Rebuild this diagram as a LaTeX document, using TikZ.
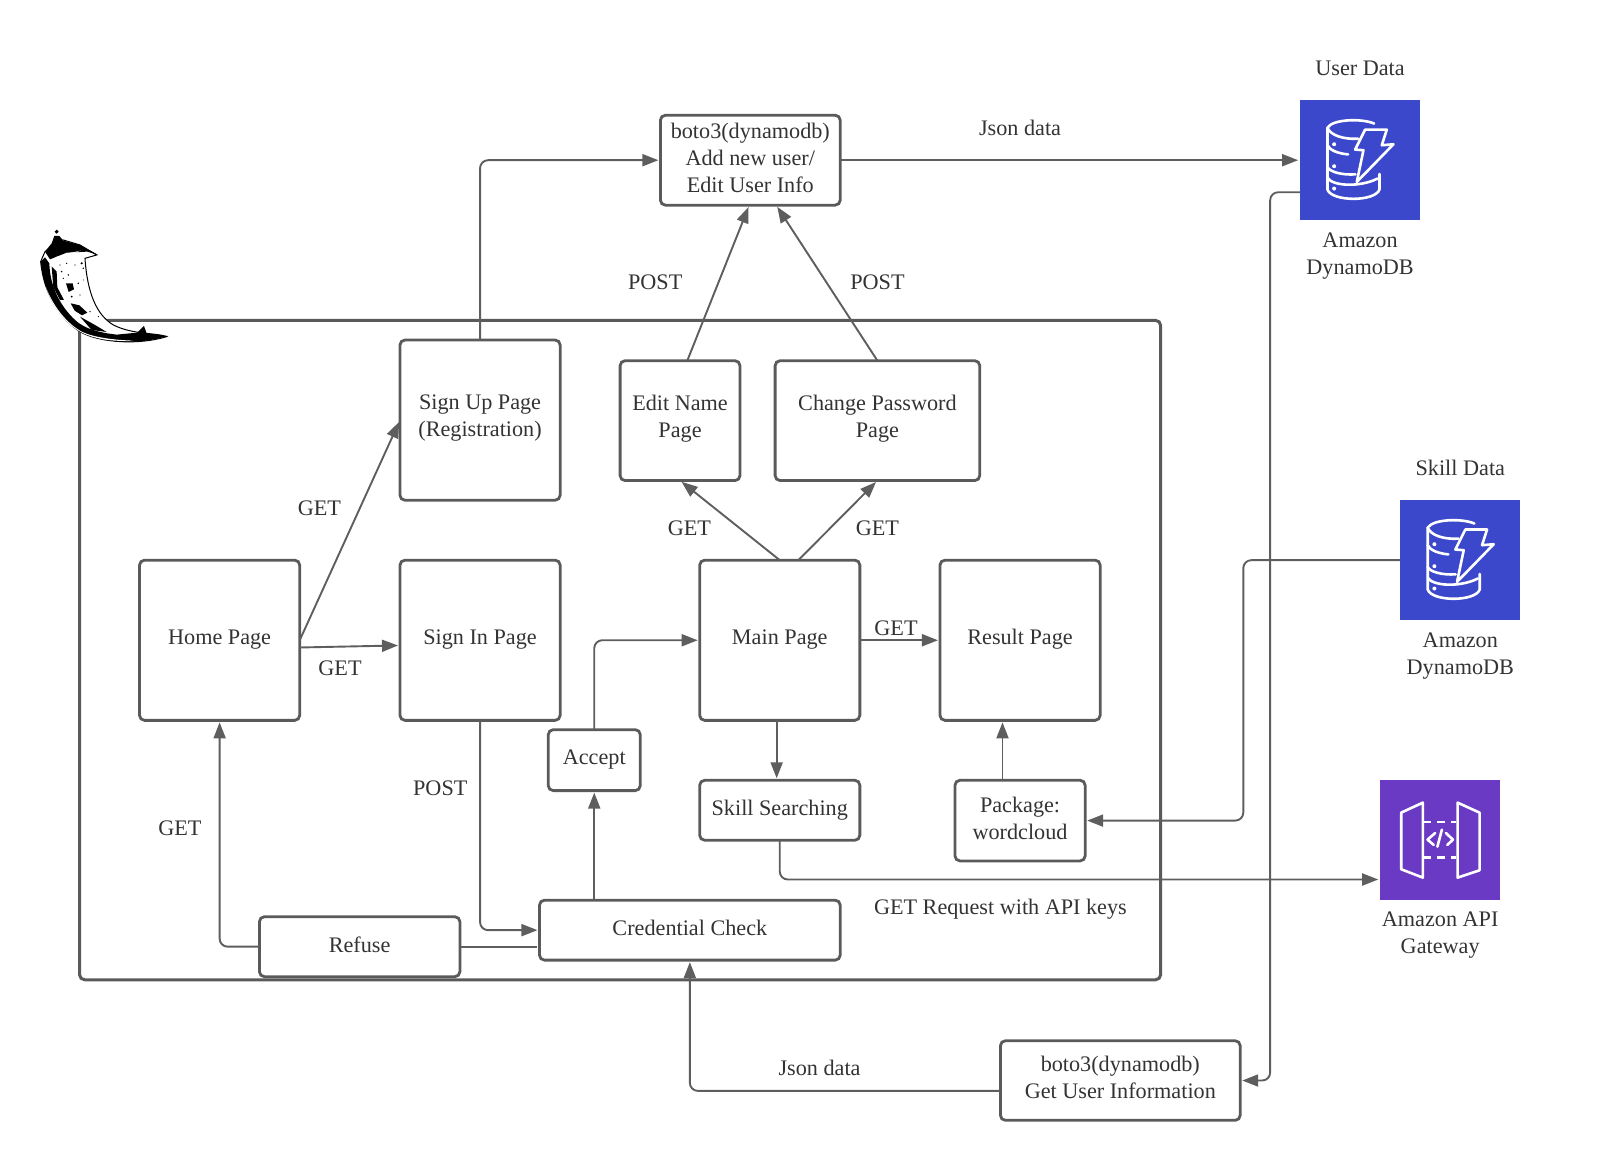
\documentclass[tikz,border=0pt]{standalone}
\usepackage{fontspec}
\setmainfont{Liberation Serif}
\usepackage{xcolor}
\usetikzlibrary{positioning,arrows.meta,calc}
\definecolor{linegray}{HTML}{5E5E5E}
\definecolor{boxgray}{HTML}{5A5A5A}
\definecolor{txtgray}{HTML}{333333}
\definecolor{dbblue}{HTML}{3B48CC}
\definecolor{apipurple}{HTML}{6A3AC4}
\newcommand{\ux}{0.51675pt}
\tikzset{
	boxwh/.style 2 args={minimum width=#1*\ux,minimum height=#2*\ux},
	pagebox/.style={draw=boxgray,line width=1.4pt,rounded corners=2.5pt,align=center,inner sep=0pt,outer sep=0pt,text=txtgray,text depth=3.4pt,font=\fontsize{11.1}{13.5}\selectfont},
	bigbox/.style={pagebox,boxwh={155}{155}},
	lbl/.style={align=center,inner sep=0pt,text=txtgray,font=\fontsize{11.1}{13.5}\selectfont},
	flow/.style={->,draw=linegray,line width=0.95pt,rounded corners=4pt},
	plainflow/.style={draw=linegray,line width=0.95pt},
	awssq/.style={boxwh={116}{116},inner sep=0pt,outer sep=0pt},
	icon/.style={draw=white,line width=1.3pt,line join=round,line cap=round},
	pics/dbicon/.style={code={
		\begin{scope}[scale=0.3225]
		\draw[icon] (222,70) .. controls (190,55) and (100,55) .. (82,82) .. controls (90,105) and (130,118) .. (180,115);
		\draw[icon] (82,82) -- (82,135) .. controls (88,150) and (115,160) .. (150,163);
		\draw[icon] (82,135) -- (82,200) .. controls (88,215) and (125,225) .. (172,222);
		\draw[icon] (82,200) -- (82,268) .. controls (95,305) and (225,305) .. (238,268) -- (238,215);
		\draw[icon] (82,232) .. controls (95,258) and (180,262) .. (238,232);
		\fill[white] (102,132) circle (6) (102,198) circle (6) (102,265) circle (6);
		\draw[icon] (195,88) -- (260,88) -- (245,135) -- (280,132) -- (170,245) -- (190,150) -- (165,148) -- cycle;
		\end{scope}
	}},
	pics/apiicon/.style={code={
		\begin{scope}[scale=0.3225]
		\draw[icon] (63,97) -- (128,67) -- (128,292) -- (63,267) -- cycle;
		\draw[icon] (232,67) -- (298,97) -- (298,270) -- (232,292) -- cycle;
		\draw[icon,line cap=butt,dash pattern=on 4pt off 3pt] (128,125) -- (232,125);
		\draw[icon,line cap=butt,dash pattern=on 4pt off 3pt] (128,232) -- (232,232);
		\draw[icon] (165,158) -- (142,178) -- (165,198);
		\draw[icon] (197,158) -- (218,178) -- (197,198);
		\draw[icon] (185,148) -- (170,205);
		\end{scope}
	}},
}
\begin{document}
\begin{tikzpicture}[x=0.51675pt,y=-0.51675pt,>={Triangle[length=8pt,width=6pt]},shorten >=1pt]
	\useasboundingbox (0,0) rectangle (1567.5,1122.4);
	% big frame
	\node[pagebox,boxwh={1046}{638},line width=1.5pt] (frame) at (600,629) {};

	% flask horn
	\begin{scope}[shift={(0,193.5)},scale=0.3225]
		\filldraw[fill=white,draw=black,line width=0.5pt] (122,185) .. controls (130,270) and (170,350) .. (240,395) .. controls (300,430) and (420,435) .. (500,410) .. controls (470,398) and (400,405) .. (340,375) .. controls (290,345) and (262,280) .. (255,175) -- (290,165) -- (240,135) -- (190,120) -- (165,130) -- (135,155) -- cycle;
		% dark band
		\fill[black] (122,185) .. controls (130,270) and (170,350) .. (240,395) .. controls (300,430) and (420,435) .. (503,408) -- (440,400) -- (432,378) -- (412,398) -- (350,404) .. controls (300,398) and (255,388) .. (225,360) .. controls (185,322) and (150,265) .. (148,190) -- (135,172) -- cycle;
		\fill[white] (138,262) .. controls (160,335) and (210,385) .. (262,405) .. controls (300,420) and (350,425) .. (400,422) .. controls (340,420) and (280,412) .. (245,395) .. controls (200,370) and (160,320) .. (138,262) -- cycle;
		% cap
		\fill[black] (135,155) -- (155,130) -- (163,108) -- (178,108) -- (190,122) -- (240,135) -- (295,165) -- (262,155) -- (200,158) -- (150,178) -- cycle;
		\fill[white] (165,172) -- (215,158) -- (242,152) -- (185,172) -- cycle;
		% mottling
		\fill[black] (155,200) -- (170,215) -- (172,262) -- (192,300) -- (180,300) -- (160,262) -- cycle;
		\fill[black] (198,250) -- (218,250) -- (222,268) -- (206,276) -- cycle;
		\fill[black] (212,310) -- (238,316) -- (262,338) -- (246,346) -- (224,332) -- cycle;
		\fill[black] (240,350) -- (285,375) -- (320,396) -- (275,390) -- cycle;
		\foreach \mx/\my/\mr in {245/190/3.5,250/205/2.5,205/225/2.5,235/250/2.5,270/335/2,225/195/2,200/190/2,185/215/2.5,215/290/3,190/235/2,240/285/2,295/350/2,180/195/2,250/240/1.5}
			\fill[black] (\mx,\my) circle (\mr);
		\filldraw[fill=white,draw=black,line width=0.7pt] (170,95) circle (3.2);
	\end{scope}

	% pages
	\node[pagebox,boxwh={174}{87},text depth=2.5pt] (boto) at (726,155) {boto3(dynamodb)\\Add new user/\\Edit User Info};
	\node[bigbox,text depth=4.2pt] (signup) at (464.5,406.5) {Sign Up Page\\(Registration)};
	\node[pagebox,boxwh={116}{116},text depth=4pt] (editname) at (658,407) {Edit Name\\Page};
	\node[pagebox,boxwh={198}{116},text depth=4pt] (changepw) at (849,407) {Change Password\\Page};
	\node[bigbox] (home) at (212.5,619.5) {Home Page};
	\node[bigbox] (signin) at (464.5,619.5) {Sign In Page};
	\node[bigbox] (main) at (754.5,619.5) {Main Page};
	\node[bigbox] (result) at (987,619.5) {Result Page};
	\node[pagebox,boxwh={89}{59},text depth=2.6pt] (accept) at (575,735.5) {Accept};
	\node[pagebox,boxwh={155}{58},text depth=2.6pt] (skill) at (754.5,784) {Skill Searching};
	\node[pagebox,boxwh={126}{78},text depth=2.5pt] (package) at (987,794) {Package:\\wordcloud};
	\node[pagebox,boxwh={194}{58},text depth=2.4pt] (refuse) at (348,916) {Refuse};
	\node[pagebox,boxwh={291}{58},text depth=2.6pt] (cred) at (667.5,900) {Credential Check};
	\node[pagebox,boxwh={232}{77},text depth=3pt] (getuser) at (1084,1045.5) {boto3(dynamodb)\\Get User Information};

	% aws services
	\node[awssq,fill=dbblue] (userdb) at (1316,155) {};
	\node[awssq,fill=dbblue] (skilldb) at (1413,542) {};
	\node[awssq,fill=apipurple] (api) at (1393.5,813) {};
	\pic at (userdb.north west) {dbicon};
	\pic at (skilldb.north west) {dbicon};
	\pic at (api.north west) {apiicon};
	\node[lbl] (userdbname) at (1316,248) {Amazon\\DynamoDB};
	\node[lbl] (skilldbname) at (1413,635) {Amazon\\DynamoDB};
	\node[lbl] (apiname) at (1393.5,905) {Amazon API\\Gateway};
	\node[lbl] (userdata) at (1316,66) {User Data};
	\node[lbl] (skilldata) at (1413,453) {Skill Data};

	% connectors
	\draw[flow] (signup.north) |- (boto.west);
	\draw[flow] ($(editname.north)+(7,0)$) -- ($(boto.south)+(-1,0)$);
	\draw[flow] (changepw.north) -- ($(boto.south)+(25,0)$);
	\draw[flow] (boto.east) -- (userdb.west);
	\draw[flow] ($(userdb.west)+(0,31)$) -| ($(getuser.east)+(29,0)$) -- (getuser.east);
	\draw[flow] (home.east) -- (signup.west);
	\draw[flow] ($(home.east)+(0,7)$) -- ($(signin.west)+(0,5)$);
	\draw[flow] (main.north) -- (editname.south);
	\draw[flow] ($(main.north)+(18,0)$) -- (changepw.south);
	\draw[flow] (main.east) -- (result.west);
	\draw[flow] ($(main.south)+(-3,0)$) -- ($(skill.north)+(-3,0)$);
	\draw[flow] ($(package.north)+(-17,0)$) -- ($(result.south)+(-17,0)$);
	\draw[flow] (skill.south) |- ($(api.west)+(0,38)$);
	\draw[flow] (skilldb.west) -- ++(-152,0) |- (package.east);
	\draw[flow] (signin.south) |- (cred.west);
	\draw[flow] ($(cred.north)+(-92.5,0)$) -- (accept.south);
	\draw[flow] (accept.north) |- (main.west);
	\draw[flow] (refuse.west) -| (home.south);
	\draw[plainflow] (refuse.east) -- (refuse.east -| cred.west);
	\draw[flow] ($(getuser.west)+(0,10)$) -| (cred.south);

	% edge labels
	\node[lbl] (json1) at (987,124) {Json data};
	\node[lbl] (post1) at (634,273) {POST};
	\node[lbl] (post2) at (849,273) {POST};
	\node[lbl] (get1) at (309,492) {GET};
	\node[lbl] (get2) at (329,647) {GET};
	\node[lbl] (get3) at (667,511) {GET};
	\node[lbl] (get4) at (849,511) {GET};
	\node[lbl] (get5) at (867,608) {GET};
	\node[lbl] (post3) at (426,763) {POST};
	\node[lbl] (get6) at (174,801) {GET};
	\node[lbl] (apikeys) at (968,880) {GET Request with API keys};
	\node[lbl] (json2) at (793,1033) {Json data};
\end{tikzpicture}
\end{document}
